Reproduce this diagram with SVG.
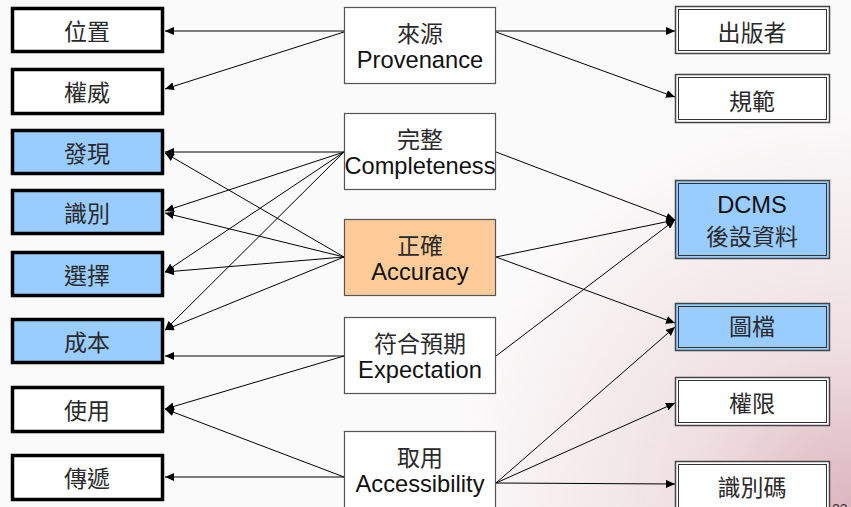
<svg xmlns="http://www.w3.org/2000/svg" width="851" height="507" viewBox="0 0 851 507">
<defs>
  <radialGradient id="bg" cx="851" cy="507" r="400" gradientUnits="userSpaceOnUse">
    <stop offset="0" stop-color="#dcb6be"/>
    <stop offset="0.4" stop-color="#efdfe2"/>
    <stop offset="1" stop-color="#fbfafa" stop-opacity="1"/>
  </radialGradient>
  <marker id="arr" markerWidth="9" markerHeight="8" refX="9" refY="4" orient="auto" markerUnits="userSpaceOnUse">
    <path d="M0,0 L9,4 L0,8 Z" fill="#000"/>
  </marker>
  <style>
    .lb { fill:#fff; stroke:#000; stroke-width:3.5; }
    .lb.blue { fill:#99ccff; }
    .cb { fill:#fff; stroke:#555; stroke-width:1.2; }
    .cb.orange { fill:#ffcc99; }
    .ro { fill:#fff; stroke:#444; stroke-width:1.5; }
    .ri { fill:none; stroke:#333; stroke-width:1; }
    .ro.blue { fill:#99ccff; }
    .t { font-family:"Liberation Sans","Noto Sans CJK TC",sans-serif; text-anchor:middle; }
    .zh { font-size:23px; fill:#2a2a2a; }
    .en { font-size:23.7px; fill:#111; }
    .edge { stroke:#000; stroke-width:1; fill:none; marker-end:url(#arr); }
  </style>
</defs>
<rect x="0" y="0" width="851" height="507" fill="url(#bg)"/>

<g id="connectors">
  <line class="edge" x1="344" y1="31" x2="165" y2="31"/>
  <line class="edge" x1="344" y1="32" x2="165" y2="89"/>
  <line class="edge" x1="496" y1="31" x2="675" y2="31"/>
  <line class="edge" x1="496" y1="32" x2="675" y2="97"/>
  <line class="edge" x1="344" y1="152" x2="165" y2="152"/>
  <line class="edge" x1="344" y1="152" x2="165" y2="211"/>
  <line class="edge" x1="344" y1="152" x2="165" y2="272"/>
  <line class="edge" x1="344" y1="152" x2="165" y2="330"/>
  <line class="edge" x1="344" y1="257" x2="165" y2="153"/>
  <line class="edge" x1="344" y1="257" x2="165" y2="213"/>
  <line class="edge" x1="344" y1="257" x2="165" y2="272"/>
  <line class="edge" x1="344" y1="257" x2="165" y2="330"/>
  <line class="edge" x1="496" y1="152" x2="675" y2="220"/>
  <line class="edge" x1="496" y1="257" x2="675" y2="220"/>
  <line class="edge" x1="496" y1="356" x2="675" y2="220"/>
  <line class="edge" x1="496" y1="257" x2="675" y2="323"/>
  <line class="edge" x1="344" y1="356" x2="165" y2="356"/>
  <line class="edge" x1="344" y1="356" x2="165" y2="409"/>
  <line class="edge" x1="344" y1="477" x2="165" y2="409"/>
  <line class="edge" x1="344" y1="477" x2="165" y2="477"/>
  <line class="edge" x1="496" y1="483" x2="675" y2="327"/>
  <line class="edge" x1="496" y1="483" x2="675" y2="403"/>
  <line class="edge" x1="496" y1="483" x2="675" y2="484"/>
</g>

<!-- left nodes -->
<g id="n-weizhi"><rect class="lb" x="12.5" y="8.5" width="150" height="43"/><text class="t zh" x="87" y="40" font-size="24">位置</text></g>
<g id="n-quanwei"><rect class="lb" x="12.5" y="69.5" width="150" height="44"/><text class="t zh" x="87" y="101">權威</text></g>
<g id="n-faxian"><rect class="lb blue" x="12.5" y="130.5" width="150" height="43"/><text class="t zh" x="87" y="162">發現</text></g>
<g id="n-shibie"><rect class="lb blue" x="12.5" y="190.5" width="150" height="43"/><text class="t zh" x="87" y="222">識別</text></g>
<g id="n-xuanze"><rect class="lb blue" x="12.5" y="252.5" width="150" height="43"/><text class="t zh" x="87" y="284">選擇</text></g>
<g id="n-chengben"><rect class="lb blue" x="12.5" y="319.5" width="150" height="43"/><text class="t zh" x="87" y="351">成本</text></g>
<g id="n-shiyong"><rect class="lb" x="12.5" y="387.5" width="150" height="44"/><text class="t zh" x="87" y="419">使用</text></g>
<g id="n-chuandi"><rect class="lb" x="12.5" y="455.5" width="150" height="44"/><text class="t zh" x="87" y="487">傳遞</text></g>

<!-- center nodes -->
<g id="n-provenance"><rect class="cb" x="344.5" y="7.5" width="151" height="76"/><text class="t zh" x="420" y="42">來源</text><text class="t en" x="420" y="68">Provenance</text></g>
<g id="n-completeness"><rect class="cb" x="344.5" y="113.5" width="151" height="76"/><text class="t zh" x="420" y="148">完整</text><text class="t en" x="420" y="174" textLength="151" lengthAdjust="spacingAndGlyphs">Completeness</text></g>
<g id="n-accuracy"><rect class="cb orange" x="344.5" y="219.5" width="151" height="76"/><text class="t zh" x="420" y="254">正確</text><text class="t en" x="420" y="280">Accuracy</text></g>
<g id="n-expectation"><rect class="cb" x="344.5" y="317.5" width="151" height="76"/><text class="t zh" x="420" y="352">符合預期</text><text class="t en" x="420" y="378">Expectation</text></g>
<g id="n-accessibility"><rect class="cb" x="344.5" y="431.5" width="151" height="78"/><text class="t zh" x="420" y="466">取用</text><text class="t en" x="420" y="492">Accessibility</text></g>

<!-- right nodes -->
<g id="n-publisher"><rect class="ro" x="675.5" y="6.5" width="154" height="47"/><rect class="ri" x="678.5" y="9.5" width="148" height="41"/><text class="t zh" x="752" y="41">出版者</text></g>
<g id="n-guifan"><rect class="ro" x="675.5" y="74.5" width="154" height="48"/><rect class="ri" x="678.5" y="77.5" width="148" height="42"/><text class="t zh" x="752" y="110">規範</text></g>
<g id="n-dcms"><rect class="ro blue" x="675.5" y="180.5" width="154" height="78"/><rect class="ri" x="678.5" y="183.5" width="148" height="72"/><text class="t en" x="752" y="213" font-size="22">DCMS</text><text class="t zh" x="752" y="245">後設資料</text></g>
<g id="n-tudang"><rect class="ro blue" x="675.5" y="303.5" width="154" height="47"/><rect class="ri" x="678.5" y="306.5" width="148" height="41"/><text class="t zh" x="752" y="335">圖檔</text></g>
<g id="n-quanxian"><rect class="ro" x="675.5" y="377.5" width="154" height="48"/><rect class="ri" x="678.5" y="380.5" width="148" height="42"/><text class="t zh" x="752" y="412">權限</text></g>
<g id="n-shibiema"><rect class="ro" x="675.5" y="461.5" width="154" height="50"/><rect class="ri" x="678.5" y="464.5" width="148" height="50"/><text class="t zh" x="752" y="496">識別碼</text></g>

<text x="832" y="514" font-family="Liberation Sans, sans-serif" font-size="14" fill="#333">23</text>
</svg>
